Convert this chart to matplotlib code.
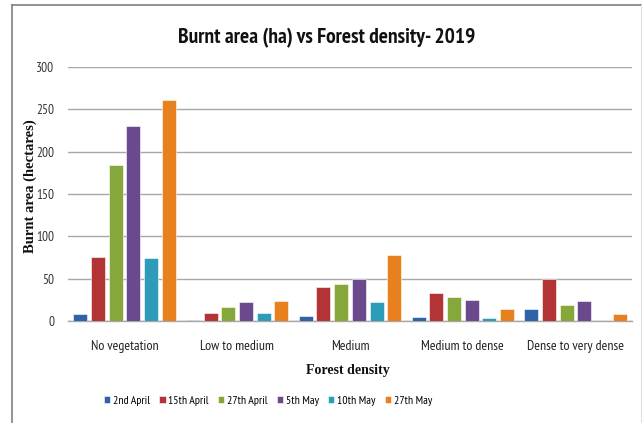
import matplotlib
matplotlib.use("Agg")
import matplotlib.pyplot as plt
import numpy as np

categories = ["No vegetation", "Low to medium", "Medium", "Medium to dense", "Dense to very dense"]
series_names = ["2nd April", "15th April", "27th April", "5th May", "10th May", "27th May"]
apr02 = [8, 1.5, 6, 5, 14]
apr15 = [76, 10, 40, 33, 50]
apr27 = [184, 17, 44, 28, 19]
may05 = [230, 22, 50, 25, 24]
may10 = [75, 10, 22, 3, 0]
may27 = [261, 24, 78, 14, 8]
values = [apr02, apr15, apr27, may05, may10, may27]
colors = ["#2F62A6", "#B23434", "#86A83A", "#6A4A8C", "#2C9CB8", "#E8801F"]
yticks = [0, 50, 100, 150, 200, 250, 300]

cond = ["PT Sans Narrow", "DejaVu Sans"]
serif = ["Liberation Serif", "DejaVu Serif"]

W, H = 642, 423
fig = plt.figure(figsize=(W / 100, H / 100), dpi=100)
ax = fig.add_axes([68 / W, 1 - 321 / H, (632 - 68) / W, (321 - 67) / H])

x = np.arange(len(categories))
step = 0.157
bw = 0.124
for i, (name, vals, c) in enumerate(zip(series_names, values, colors)):
    off = (i - 2.5) * step
    ax.bar(x + off, vals, width=bw, color=c, label=name, zorder=3,
           edgecolor="white", linewidth=0.4)

ax.set_xlim(-0.5, len(categories) - 0.5)
ax.set_ylim(0, 300)
ax.set_yticks(yticks)
ax.set_yticklabels([str(t) for t in yticks], fontfamily=cond, fontsize=9.5, color="#333333")
ax.set_xticks(x)
ax.set_xticklabels(categories, fontfamily=cond, fontsize=10, color="#222222")
ax.tick_params(axis="y", length=0, pad=10)
ax.tick_params(axis="x", length=0, pad=14)
ax.grid(axis="y", color="#A8A8A8", linewidth=1.0, zorder=0)
for s in ["left", "right", "top"]:
    ax.spines[s].set_visible(False)
ax.spines["bottom"].set_color("#A8A8A8")
ax.spines["bottom"].set_linewidth(1.0)

fig.text(327 / W, 1 - 38 / H, "Burnt area (ha) vs Forest density- 2019", ha="center", va="center",
         fontfamily=cond, fontweight="bold", fontsize=15.5, color="#111111")
fig.text(348 / W, 1 - 370 / H, "Forest density", ha="center", va="center",
         fontfamily=serif, fontweight="bold", fontsize=10, color="#111111")
fig.text(30 / W, 1 - 186 / H, "Burnt area (hectares)", ha="center", va="center", rotation=90,
         fontfamily=serif, fontweight="bold", fontsize=10.5, color="#111111")

leg = fig.legend(loc="center", bbox_to_anchor=(268 / W, 1 - 401 / H), ncol=6, frameon=False,
                 prop={"family": cond, "size": 8.5}, handlelength=0.55, handleheight=0.55,
                 handletextpad=0.25, columnspacing=0.75)

# figure border
fig.add_artist(plt.Line2D([12 / W, 12 / W], [0, 1 - 5 / H], color="#808080", linewidth=1.2))
fig.add_artist(plt.Line2D([12 / W, 641 / W], [1 - 5 / H, 1 - 5 / H], color="#808080", linewidth=1.2))
fig.add_artist(plt.Line2D([641 / W, 641 / W], [0, 1 - 5 / H], color="#E0E0E0", linewidth=0.8))

fig.savefig("out.png", dpi=100)
